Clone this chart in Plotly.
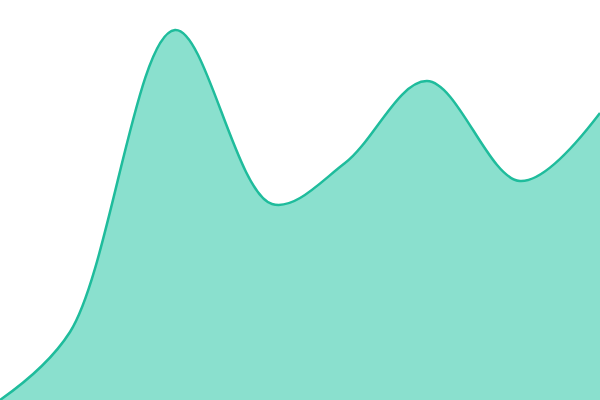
import plotly.graph_objects as go

# data
xs = [0, 70, 175, 272, 345, 427, 520, 600]
ys = [0, 68, 370, 196, 237, 319, 219, 287]

line_color = "#1fbc9c"
fill_color = "#8ae0ce"

fig = go.Figure()
fig.add_trace(
    go.Scatter(
        x=xs,
        y=ys,
        mode="lines",
        line=dict(color=line_color, width=2.5, shape="spline", smoothing=1),
        fill="tozeroy",
        fillcolor=fill_color,
        hoverinfo="skip",
    )
)

fig.update_layout(
    width=600,
    height=400,
    margin=dict(l=0, r=0, t=0, b=0),
    paper_bgcolor="white",
    plot_bgcolor="white",
    showlegend=False,
)
fig.update_xaxes(range=[0, 600], visible=False, fixedrange=True)
fig.update_yaxes(range=[0, 400], visible=False, fixedrange=True)

# drop the default body margin so the plot sits flush in the window
fig.write_html(
    "out.html",
    config={"displayModeBar": False},
    post_script="document.body.style.margin='0';",
)
